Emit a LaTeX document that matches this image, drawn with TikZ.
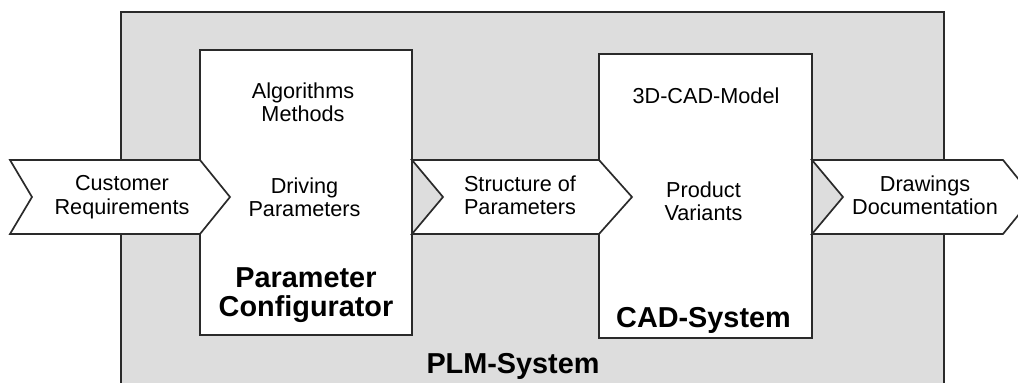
\documentclass[tikz,border=0pt]{standalone}
\usepackage{fontspec}
\setmainfont{Liberation Sans}
\usepackage{xcolor}
\definecolor{plmgray}{RGB}{221,221,221}
\definecolor{linegray}{RGB}{42,42,42}
\tikzset{blk/.style={draw=linegray,line width=1.4pt,fill=white,inner sep=0pt},
  chevron/.style={draw=linegray,line width=1.2pt,fill=white,line join=miter},
  txt/.style={align=center,inner sep=0pt,font=\fontsize{15.4}{17}\selectfont},
  title/.style={align=center,inner sep=0pt,font=\fontsize{20.5}{20.6}\selectfont\bfseries}}

\begin{document}
\begin{tikzpicture}[x=0.025cm,y=-0.025cm]
        \clip (0,0) rectangle (1018,382);
        \fill[white] (0,0) rectangle (1018,382);
        % PLM frame, open at the bottom
        \draw[fill=plmgray,draw=linegray,line width=1.4pt] (121,400) -- (121,12) -- (944,12) -- (944,400);
        \node[blk,minimum width=5.3cm,minimum height=7.125cm] (pc) at (306,192.5) {};
        \node[blk,minimum width=5.325cm,minimum height=7.1cm] (cad) at (705.5,196) {};
        % flow chevrons
        \draw[chevron] (10,160) -- (200,160) -- (230,197) -- (200,234) -- (10,234) -- (32,197) -- cycle;
        \draw[chevron] (412,160) -- (599,160) -- (632,197) -- (599,234) -- (412,234) -- (443,197) -- cycle;
        \draw[chevron] (812,160) -- (1003,160) -- (1033,197) -- (1003,234) -- (812,234) -- (843,197) -- cycle;
        \node[txt] (req) at (122,197.5) {Customer\\Requirements};
        \node[txt] (algo) at (303,102.3) {Algorithms\\Methods};
        \node[txt] (drive) at (304.5,197.3) {Driving\\Parameters};
        \node[title] (pclabel) at (306,295.2) {Parameter\\Configurator};
        \node[txt] (struct) at (520,195.3) {Structure of\\Parameters};
        \node[txt,anchor=base] (model) at (706,103) {3D-CAD-Model};
        \node[txt] (variants) at (703.5,201.3) {Product\\Variants};
        \node[title,anchor=base] (cadlabel) at (703.5,327) {CAD-System};
        \node[txt] (docs) at (925,195.3) {Drawings\\Documentation};
        \node[title,anchor=base] (plmlabel) at (513,373) {PLM-System};
\end{tikzpicture}
\end{document}
